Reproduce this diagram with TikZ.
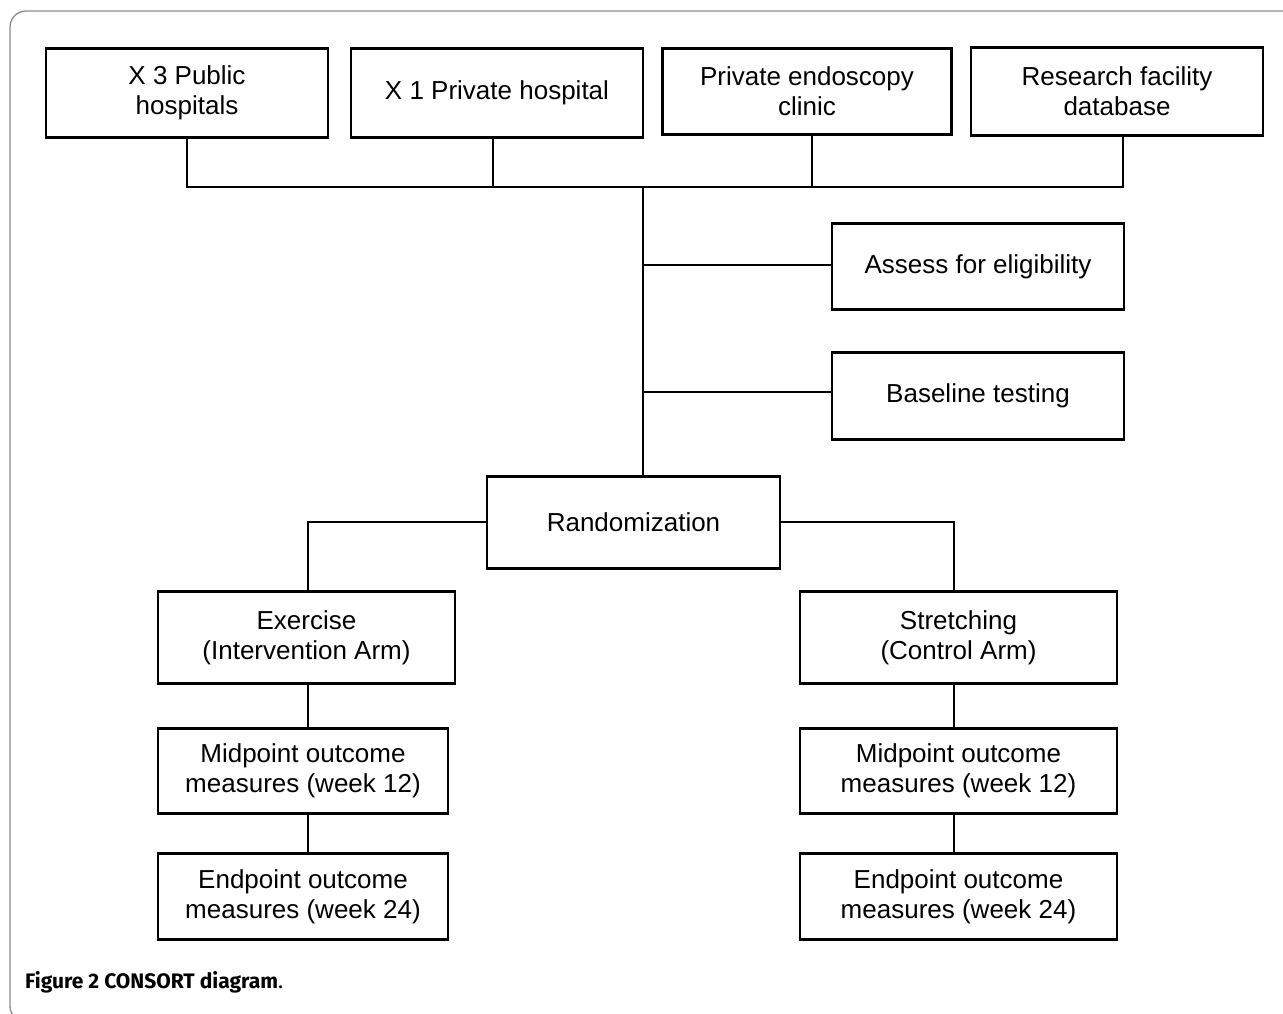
\documentclass[tikz,border=0pt]{standalone}
\usepackage{fontspec}
\setmainfont{Liberation Sans}
\newfontfamily\capfont{Fira Sans}
\begin{document}
\begin{tikzpicture}[x=1pt,y=-1pt,
  box/.style={draw=black,line width=2.4pt,inner sep=0pt,align=center,
    font=\fontsize{26}{30}\selectfont},
  conn/.style={draw=black,line width=2.2pt}]
\useasboundingbox (0,0) rectangle (1283,1013);
\begin{scope}
\clip (0,0) rectangle (1283,1013);
\draw[line width=1.3pt,draw=black!45,rounded corners=16pt] (10,11) rectangle (1300,1022);
\end{scope}
% top row
\node[box,minimum width=282pt,minimum height=89pt] (b1) at (187,93) {X 3 Public\\hospitals};
\node[box,minimum width=292pt,minimum height=89pt] (b2) at (497,93) {X 1 Private hospital};
\node[box,minimum width=289pt,minimum height=86pt] (b3) at (807,91.5) {Private endoscopy\\clinic};
\node[box,minimum width=292pt,minimum height=88pt] (b4) at (1117,91.5) {Research facility\\database};
% middle
\node[box,minimum width=292pt,minimum height=86pt] (assess) at (978,266.5) {Assess for eligibility};
\node[box,minimum width=292pt,minimum height=87pt] (base) at (978,396) {Baseline testing};
\node[box,minimum width=293pt,minimum height=92pt] (rand) at (633.5,522.5) {Randomization};
% arms
\node[box,minimum width=297pt,minimum height=92pt] (ex) at (306.5,637.5) {Exercise\\(Intervention Arm)};
\node[box,minimum width=317pt,minimum height=92pt] (st) at (958.5,637.5) {Stretching\\(Control Arm)};
\node[box,minimum width=290pt,minimum height=85pt] (midl) at (303,771) {Midpoint outcome\\measures (week 12)};
\node[box,minimum width=317pt,minimum height=85pt] (midr) at (958.5,771) {Midpoint outcome\\measures (week 12)};
\node[box,minimum width=290pt,minimum height=86pt] (endl) at (303,896.5) {Endpoint outcome\\measures (week 24)};
\node[box,minimum width=317pt,minimum height=86pt] (endr) at (958.5,896.5) {Endpoint outcome\\measures (week 24)};
% bus
\coordinate (busL) at (187,187);
\coordinate (busR) at (1123,187);
\coordinate (trunk) at (643,187);
\draw[conn] (b1.south) -- (busL) -- (busR) -- ([xshift=6pt]b4.south);
\draw[conn] ([xshift=-4pt]b2.south) -- ([xshift=-4pt]b2.south |- busL);
\draw[conn] ([xshift=5pt]b3.south) -- ([xshift=5pt]b3.south |- busL);
\draw[conn] (trunk) -- (trunk |- rand.north);
\draw[conn] ([yshift=1.5pt]assess.west) -- ([yshift=1.5pt]assess.west -| trunk);
\draw[conn] ([yshift=4pt]base.west) -- ([yshift=4pt]base.west -| trunk);
\draw[conn] ([yshift=0.5pt]rand.west) -| ([xshift=1.5pt]ex.north);
\draw[conn] ([yshift=0.5pt]rand.east) -| ([xshift=-4.5pt]st.north);
\draw[conn] ([xshift=1.5pt]ex.south) -- ([xshift=1.5pt]ex.south |- midl.north);
\draw[conn] ([xshift=5pt]midl.south) -- ([xshift=5pt]midl.south |- endl.north);
\draw[conn] ([xshift=-4.5pt]st.south) -- ([xshift=-4.5pt]st.south |- midr.north);
\draw[conn] ([xshift=-4.5pt]midr.south) -- ([xshift=-4.5pt]midr.south |- endr.north);
% caption
\node[anchor=base west,inner sep=0pt,font=\capfont\fontsize{21}{25}\selectfont] (cap) at (25,988)
  {\textbf{Figure 2 CONSORT diagram}.};
\end{tikzpicture}
\end{document}
